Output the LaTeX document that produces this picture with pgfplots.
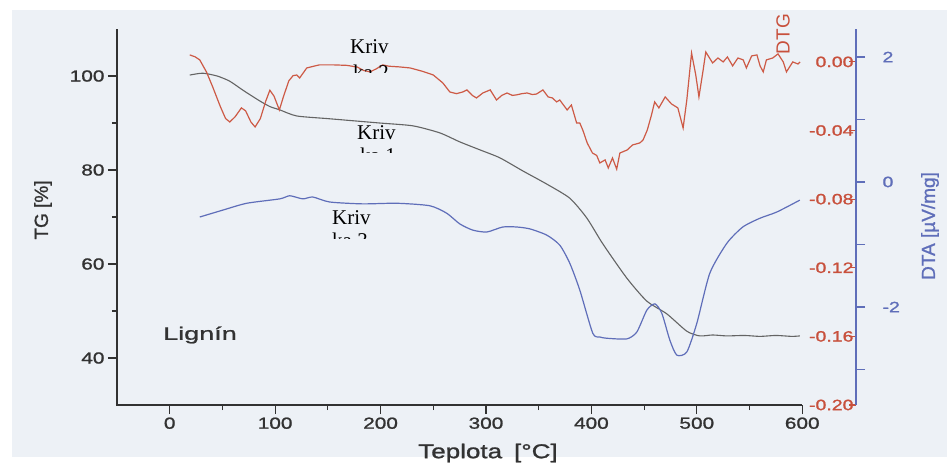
\documentclass[border=0pt]{standalone}
\usepackage{fontspec}
\setmainfont{Liberation Sans}
\newfontfamily\wideA[FakeStretch=1.3,FakeBold=1.2]{Liberation Sans}
\newfontfamily\wideB[FakeStretch=1.5,FakeBold=1.2]{Liberation Sans}
\newfontfamily\boldish[FakeBold=1]{Liberation Sans}
\newfontfamily\krivfont{Liberation Serif}
\usepackage{pgfplots}
\pgfplotsset{compat=1.18}
\definecolor{tgc}{RGB}{100,100,100}
\definecolor{dtgc}{RGB}{205,90,70}
\definecolor{dtgt}{RGB}{200,80,60}
\definecolor{dtac}{RGB}{95,110,185}
\definecolor{axiscol}{RGB}{50,50,50}
\definecolor{bgc}{RGB}{237,241,246}

\pgfplotstableread{
T TG
19.0 100.2
31.3 100.6
45 100.0
56.9 98.9
70 96.9
85.4 94.7
95 93.5
104.4 92.8
120.5 91.5
151.8 90.9
199.2 90.0
230.6 89.4
256.2 87.9
275 86.0
294.1 84.3
313.1 82.6
335 79.8
357.7 77.0
379.5 74.0
395.6 69.8
410.8 64.3
433.6 57.0
452.6 52.1
471.5 49.4
490.5 45.7
502.8 44.7
515 44.9
528.5 44.7
545 44.8
560 44.6
575 44.8
590 44.6
597.7 44.7
}\tgdata

\pgfplotstableread{
T DTG
19.0 0.0041
24 0.0030
28.5 0.0012
35 -0.0060
40.8 -0.0146
48 -0.0260
53 -0.0330
57 -0.0350
62 -0.0320
68 -0.0268
72 -0.0285
77 -0.0350
81 -0.0379
86 -0.0330
91 -0.0230
95 -0.0165
99 -0.0200
104 -0.0280
108 -0.0200
113 -0.0110
117 -0.0080
120.5 -0.0076
123.3 -0.0093
130 -0.0035
142 -0.0017
155 -0.0017
168 -0.0020
178 -0.0030
184 -0.0050
190 -0.0058
196 -0.0040
202 -0.0017
208 -0.0025
218 -0.0029
228 -0.0035
240 -0.0055
250 -0.0076
259 -0.0122
265.7 -0.0175
272 -0.0185
278 -0.0175
282 -0.0163
287 -0.0195
291 -0.0210
297 -0.0181
304 -0.0163
310 -0.0222
315 -0.0195
320 -0.0181
325 -0.0195
329 -0.0192
334 -0.0185
339 -0.0181
344 -0.0190
348 -0.0187
354 -0.0163
359 -0.0204
363 -0.0210
367 -0.0233
370 -0.0222
377 -0.0280
381 -0.0251
386 -0.0356
389 -0.0356
392 -0.0400
396 -0.0472
401 -0.0531
405 -0.0545
408 -0.0589
413 -0.0571
416 -0.0618
420 -0.0560
424 -0.0625
427 -0.0531
434 -0.0513
439 -0.0484
446 -0.0472
449 -0.0455
453 -0.0397
457 -0.0309
460 -0.0233
464 -0.0268
470 -0.0204
476 -0.0245
482 -0.0268
487 -0.0385
490.5 -0.0222
495 0.0052
499 -0.0076
502 -0.0204
506 -0.0047
508.5 0.0058
515 -0.0006
520 0.0023
525 0.0000
529 0.0029
534 -0.0023
539 0.0023
544 0.0012
547 -0.0035
552 0.0035
557 0.0041
560 -0.0023
563 -0.0058
566 0.0012
572 0.0023
577 0.0047
582 0.0000
585 -0.0058
591 0.0000
596 -0.0012
598 0.0000
}\dtgdata

\pgfplotstableread{
T DTA
28.5 -0.56
50.3 -0.45
73.1 -0.34
104.4 -0.27
113.9 -0.22
126.2 -0.27
135.7 -0.24
151.8 -0.32
183.1 -0.35
215.4 -0.34
246.7 -0.38
262.8 -0.50
275.1 -0.67
287.5 -0.77
300.8 -0.80
315.9 -0.72
329.2 -0.72
341.6 -0.75
357.7 -0.85
370.0 -1.01
379.5 -1.30
389.0 -1.73
401.3 -2.42
408.0 -2.48
414.6 -2.50
433.6 -2.51
443.1 -2.40
452.6 -2.05
460.2 -1.95
466.8 -2.10
474.4 -2.53
481.0 -2.77
490.5 -2.72
500.0 -2.26
512.3 -1.46
528.5 -0.98
543.6 -0.72
559.8 -0.58
575.9 -0.48
597.7 -0.29
}\dtadata

\begin{document}
\begin{tikzpicture}
\useasboundingbox (-117pt,-62pt) rectangle (830pt,405pt);
\fill[bgc] (-105pt,-52pt) rectangle (830pt,395pt);

% TG axis
\begin{axis}[
  at={(0pt,0pt)}, anchor=south west, scale only axis,
  width=739pt, height=376pt,
  xmin=-50, xmax=651, ymin=30, ymax=110,
  axis x line*=bottom, axis y line*=left,
  x axis line style={draw=none},
  y axis line style={line width=1.4pt, axiscol},
  xtick={0,100,...,600}, minor xtick={50,150,...,550},
  ytick={40,60,80,100}, minor ytick={50,70,90},
  tick align=outside, major tick length=9pt, minor tick length=5pt,
  every tick/.style={axiscol, line width=1.1pt},
  ticklabel style={font=\wideA\fontsize{16}{16}\selectfont, text=axiscol},
  /pgf/number format/assume math mode=true,
  clip=false,
]
\draw[axiscol, line width=1.4pt] (axis cs:-51,30) -- (axis cs:600,30);
\addplot[tgc, line width=1.1pt, smooth, tension=0.4] table[x=T, y=TG] {\tgdata};
\end{axis}

% DTG axis
\begin{axis}[
  at={(0pt,0pt)}, anchor=south west, scale only axis,
  width=739pt, height=376pt,
  xmin=-50, xmax=651, ymin=-0.20, ymax=0.0192,
  axis x line=none, axis y line*=right,
  y axis line style={draw=none},
  ytick={-0.2,-0.16,-0.12,-0.08,-0.04,0},
  yticklabels={-0.20,-0.16,-0.12,-0.08,-0.04,0.00},
  tick align=inside, major tick length=7pt,
  every tick/.style={dtgt, line width=1.1pt},
  yticklabel style={anchor=east, xshift=1pt, font=\wideA\fontsize{15}{15}\selectfont, text=dtgt},
  /pgf/number format/assume math mode=true,
  clip=false,
]
\addplot[dtgc, line width=1.2pt] table[x=T, y=DTG] {\dtgdata};
\end{axis}

% DTA axis
\begin{axis}[
  at={(0pt,0pt)}, anchor=south west, scale only axis,
  width=739pt, height=376pt,
  xmin=-50, xmax=651, ymin=-3.568, ymax=2.448,
  axis x line=none, axis y line*=right,
  y axis line style={line width=1.4pt, dtac},
  ytick={-2,0,2}, minor ytick={-3,-1,1},
  tick align=outside, major tick length=9pt, minor tick length=9pt,
  every tick/.style={dtac, line width=1.1pt},
  yticklabel style={xshift=14pt, font=\wideA\fontsize{15}{15}\selectfont, text=dtac},
  /pgf/number format/assume math mode=true,
  clip=false,
]
\addplot[dtac, line width=1.2pt, smooth, tension=0.4] table[x=T, y=DTA] {\dtadata};
\end{axis}

% axis titles and annotations
\node[rotate=90, font=\boldish\fontsize{19}{19}\selectfont, text=axiscol] at (-74pt,195pt) {TG [\%]};
\node[rotate=90, font=\boldish\fontsize{19}{19}\selectfont, text=dtac] at (813pt,179pt) {DTA [µV/mg]};
\node[rotate=90, font=\fontsize{19}{19}\selectfont, text=dtgt, inner sep=0pt] at (666pt,371pt) {DTG};
\node[font=\wideA\fontsize{20}{20}\selectfont, text=axiscol] at (371pt,-48pt) {Teplota\hspace{12pt}[°C]};
\node[font=\wideB\fontsize{18}{18}\selectfont, text=axiscol] at (83pt,70pt) {Lignín};

% clipped text boxes
\node[anchor=base west, inner sep=0pt, font=\krivfont\fontsize{21}{21}\selectfont] at (233pt,352pt) {Kriv};
\begin{scope}
\clip (220pt,333pt) rectangle (300pt,348pt);
\node[anchor=base west, inner sep=0pt, font=\krivfont\fontsize{21}{21}\selectfont] at (236pt,326pt) {ka 2};
\end{scope}
\node[anchor=base west, inner sep=0pt, font=\krivfont\fontsize{21}{21}\selectfont] at (240pt,266pt) {Kriv};
\begin{scope}
\clip (225pt,253pt) rectangle (305pt,264pt);
\node[anchor=base west, inner sep=0pt, font=\krivfont\fontsize{21}{21}\selectfont] at (243pt,243pt) {ka 1};
\end{scope}
\node[anchor=base west, inner sep=0pt, font=\krivfont\fontsize{21}{21}\selectfont] at (215pt,181pt) {Kriv};
\begin{scope}
\clip (205pt,167pt) rectangle (285pt,179pt);
\node[anchor=base west, inner sep=0pt, font=\krivfont\fontsize{21}{21}\selectfont] at (215pt,158pt) {ka 3};
\end{scope}
\end{tikzpicture}
\end{document}
